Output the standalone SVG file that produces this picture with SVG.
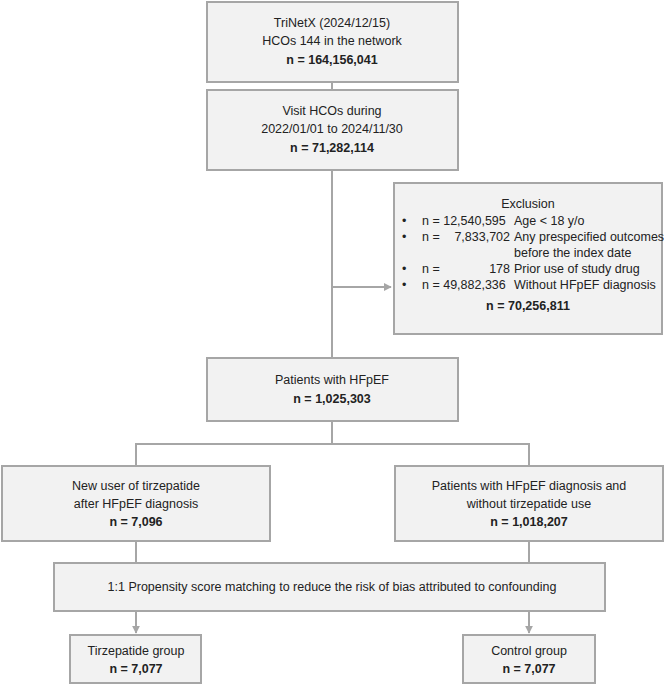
<svg xmlns="http://www.w3.org/2000/svg" width="664" height="685" viewBox="0 0 664 685">
<defs>
<style>
.b{fill:#f2f2f2;stroke:#a6a6a6;stroke-width:2}
.c{fill:none;stroke:#a6a6a6;stroke-width:2}
text{font-family:"Liberation Sans",Arial,sans-serif;font-size:12.5px;fill:#222}
.m{text-anchor:middle}.r{text-anchor:end}.bd{font-weight:bold}
</style>
<marker id="a" viewBox="0 0 10 10" refX="9" refY="5" markerWidth="4" markerHeight="4" orient="auto"><path d="M0,0L10,5L0,10z" fill="#a6a6a6"/></marker>
</defs>
<rect width="664" height="685" fill="#fff"/>
<g id="connectors">
<path class="c" d="M332,82V90M332,170V358M332,287H391" marker-end="url(#a)"/>
<path class="c" d="M332,170V358"/>
<path class="c" d="M332,421V444M136,466V444H529V466M136,541V563M529,541V563"/>
<path class="c" d="M136,611V633" marker-end="url(#a)"/>
<path class="c" d="M529,611V633" marker-end="url(#a)"/>
</g>
<g id="n1"><rect class="b" x="207" y="2" width="251" height="80"/>
<text class="m" x="332" y="27">TriNetX (2024/12/15)</text><text class="m" x="332" y="45">HCOs 144 in the network</text><text class="m bd" x="332" y="64">n = 164,156,041</text></g>
<g id="n2"><rect class="b" x="207" y="90" width="251" height="80"/>
<text class="m" x="332" y="115">Visit HCOs during</text><text class="m" x="332" y="133">2022/01/01 to 2024/11/30</text><text class="m bd" x="332" y="152">n = 71,282,114</text></g>
<g id="excl"><rect class="b" x="394" y="183" width="268" height="151"/>
<text class="m" x="528" y="208">Exclusion</text>
<text x="402" y="225">•</text><text x="422" y="225">n = 12,540,595</text><text x="514" y="225">Age &lt; 18 y/o</text>
<text x="402" y="241">•</text><text x="422" y="241">n =</text><text class="r" x="510" y="241">7,833,702</text><text x="514" y="241">Any prespecified outcomes</text>
<text x="514" y="257">before the index date</text>
<text x="402" y="273">•</text><text x="422" y="273">n =</text><text class="r" x="510" y="273">178</text><text x="514" y="273">Prior use of study drug</text>
<text x="402" y="289">•</text><text x="422" y="289">n = 49,882,336</text><text x="514" y="289">Without HFpEF diagnosis</text>
<text class="m bd" x="528" y="310">n = 70,256,811</text></g>
<g id="n3"><rect class="b" x="207" y="358" width="251" height="63"/>
<text class="m" x="332" y="384">Patients with HFpEF</text><text class="m bd" x="332" y="403">n = 1,025,303</text></g>
<g id="n4"><rect class="b" x="2" y="466" width="268" height="75"/>
<text class="m" x="136" y="490">New user of tirzepatide</text><text class="m" x="136" y="508">after HFpEF diagnosis</text><text class="m bd" x="136" y="526">n = 7,096</text></g>
<g id="n5"><rect class="b" x="395" y="466" width="268" height="75"/>
<text class="m" x="529" y="490">Patients with HFpEF diagnosis and</text><text class="m" x="529" y="508">without tirzepatide use</text><text class="m bd" x="529" y="526">n = 1,018,207</text></g>
<g id="n6"><rect class="b" x="54" y="563" width="551" height="48"/>
<text class="m" x="332" y="591">1:1 Propensity score matching to reduce the risk of bias attributed to confounding</text></g>
<g id="n7"><rect class="b" x="70" y="635" width="131" height="48"/>
<text class="m" x="136" y="655">Tirzepatide group</text><text class="m bd" x="136" y="673">n = 7,077</text></g>
<g id="n8"><rect class="b" x="463" y="635" width="132" height="48"/>
<text class="m" x="529" y="655">Control group</text><text class="m bd" x="529" y="673">n = 7,077</text></g>
</svg>
